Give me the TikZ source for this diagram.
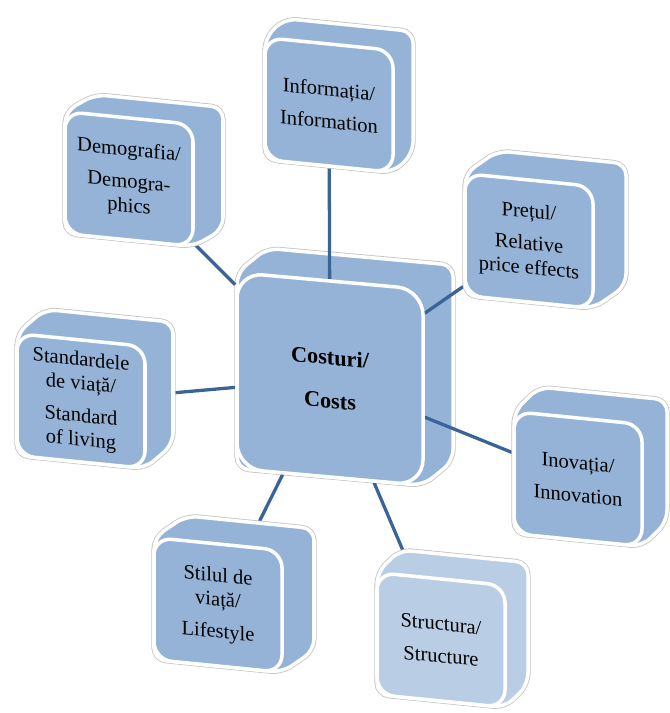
\documentclass[tikz,border=0pt]{standalone}
\usepackage{fontspec}
\setmainfont{Liberation Serif}
\usetikzlibrary{calc}
\definecolor{cube}{HTML}{95B3D7}
\definecolor{cubelight}{HTML}{B9CDE5}
\definecolor{rimgray}{HTML}{C4C4C4}
\definecolor{linkblue}{HTML}{3B6496}
\pgfdeclarelayer{back}
\pgfdeclarelayer{links}
\pgfsetlayers{back,links,main}
\tikzset{%
	face/.style={draw=white, line width=3pt, fill=cube, rounded corners=15pt,%
		minimum width=3.84cm, minimum height=3.66cm, inner sep=0mm, align=center,%
		transform shape, font=\fontsize{17.5}{20.5}\selectfont},
	bigface/.style={face, rounded corners=22pt, minimum width=5.58cm, minimum height=5.88cm,%
		font=\fontsize{19}{37}\selectfont\bfseries},
	hull/.style={draw=white, line width=3pt, rounded corners=10pt},
	rim/.style={draw=rimgray, line width=4.4pt, rounded corners=10pt},
	link/.style={draw=linkblue, line width=2.8pt}
}
% sides of a cube: [fill] half width, half height, depth right, depth up
\newcommand{\cubehull}[5][cube]{%
	\draw[rim] (-#2,#3) -- (-#2,-#3) -- (-#2+#4,-#3-#5) -- (#2+#4,-#3-#5) -- (#2+#4,#3-#5) -- (#2,#3) -- cycle;
	\draw[hull, fill=#1] (-#2,#3) -- (-#2,-#3) -- (-#2+#4,-#3-#5) -- (#2+#4,-#3-#5) -- (#2+#4,#3-#5) -- (#2,#3) -- cycle;
}
\begin{document}
\begin{tikzpicture}[x=0.03cm, y=-0.03cm]
	\useasboundingbox (0,0) rectangle (669,713);

	%centre
	\begin{scope}[shift={(330,379)}, yslant=-0.09]
		\begin{pgfonlayer}{back}
			\cubehull{93}{98}{30}{27}
		\end{pgfonlayer}
		\node [bigface] (costs) {Costuri/\\Costs};
	\end{scope}

	%around
	\begin{scope}[shift={(329,105)}, yslant=-0.1]
		\cubehull{64}{61}{20}{21}
		\node [face] (info) {Informația/\\[7pt]Information};
	\end{scope}
	\begin{scope}[shift={(129,179)}, yslant=-0.1]
		\cubehull{64}{61}{30}{20}
		\node [face] (demo) {Demografia/\\[7pt]Demogra-\\phics};
	\end{scope}
	\begin{scope}[shift={(529,241)}, yslant=-0.1]
		\cubehull{64}{61}{33}{26}
		\node [face] (price) {Prețul/\\[7pt]Relative\\price effects};
	\end{scope}
	\begin{scope}[shift={(81,401)}, yslant=-0.1]
		\cubehull{64}{61}{28}{27}
		\node [face] (living) {Standardele\\de viață/\\[7pt]Standard\\of living};
	\end{scope}
	\begin{scope}[shift={(578,479)}, yslant=-0.1]
		\cubehull{64}{61}{25}{27}
		\node [face] (innov) {Inovația/\\[7pt]Innovation};
	\end{scope}
	\begin{scope}[shift={(218,605)}, yslant=-0.1]
		\cubehull{64}{61}{32}{25}
		\node [face] (life) {Stilul de\\viață/\\[7pt]Lifestyle};
	\end{scope}
	\begin{scope}[shift={(441,640)}, yslant=-0.1]
		\cubehull[cubelight]{64}{61}{23}{25}
		\node [face, fill=cubelight] (struct) {Structura/\\[7pt]Structure};
	\end{scope}

	\begin{pgfonlayer}{links}
		\foreach \n in {info, demo, price, living, innov, life, struct}
			\draw [link] (costs) -- (\n);
	\end{pgfonlayer}
\end{tikzpicture}
\end{document}
